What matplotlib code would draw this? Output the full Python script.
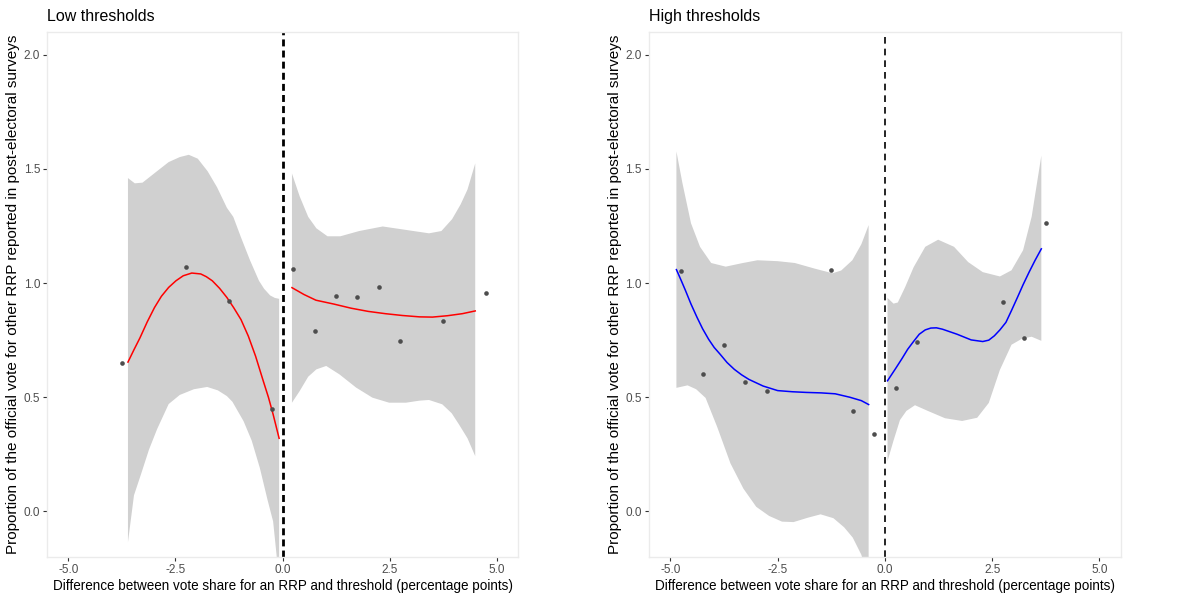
import matplotlib
matplotlib.use('Agg')
import matplotlib.pyplot as plt

plt.rcParams['font.family'] = ['Liberation Sans', 'DejaVu Sans']

# ---- Low thresholds panel ----
low_pts_x = [-3.75, -2.25, -1.25, -0.25, 0.25, 0.75, 1.25, 1.75, 2.25, 2.75, 3.75, 4.75]
low_pts_y = [0.65, 1.07, 0.92, 0.45, 1.063, 0.79, 0.945, 0.94, 0.985, 0.745, 0.834, 0.956]

low_left_x = [-3.61, -3.47, -3.33, -3.16, -2.99, -2.83, -2.66, -2.49, -2.32, -2.12, -1.91, -1.78, -1.64,
              -1.47, -1.30, -1.14, -0.97, -0.80, -0.63, -0.45, -0.33, -0.22, -0.08]
low_left_fit = [0.654, 0.708, 0.76, 0.83, 0.893, 0.942, 0.981, 1.01, 1.032, 1.044, 1.04, 1.028, 1.01,
                0.977, 0.937, 0.892, 0.84, 0.768, 0.68, 0.571, 0.50, 0.425, 0.32]

low_left_up_x = [-3.61, -3.45, -3.27, -3.0, -2.66, -2.40, -2.19, -1.98, -1.75, -1.53, -1.30, -1.15,
                 -0.97, -0.76, -0.55, -0.43, -0.29, -0.18, -0.08]
low_left_up = [1.46, 1.437, 1.44, 1.48, 1.53, 1.552, 1.562, 1.545, 1.49, 1.42, 1.33, 1.29,
               1.20, 1.10, 1.01, 0.975, 0.946, 0.935, 0.931]

low_left_lo_x = [-3.61, -3.47, -3.31, -3.12, -2.93, -2.66, -2.40, -2.07, -1.76, -1.51, -1.30, -1.17,
                 -0.91, -0.72, -0.53, -0.35, -0.22, -0.08]
low_left_lo = [-0.135, 0.07, 0.16, 0.27, 0.36, 0.47, 0.51, 0.535, 0.545, 0.53, 0.505, 0.48,
               0.395, 0.31, 0.19, 0.05, -0.044, -0.30]

low_right_x = [0.22, 0.5, 0.78, 1.2, 1.6, 2.0, 2.4, 2.8, 3.2, 3.5, 3.85, 4.2, 4.5]
low_right_fit = [0.98, 0.95, 0.925, 0.908, 0.89, 0.876, 0.866, 0.858, 0.852, 0.851, 0.857, 0.866, 0.878]

low_right_up_x = [0.22, 0.40, 0.60, 0.79, 1.05, 1.35, 1.79, 2.34, 2.88, 3.42, 3.71, 3.96, 4.16, 4.32, 4.5]
low_right_up = [1.48, 1.38, 1.29, 1.24, 1.205, 1.205, 1.228, 1.248, 1.233, 1.218, 1.228, 1.28, 1.345, 1.41, 1.524]

low_right_lo_x = [0.22, 0.40, 0.60, 0.79, 1.02, 1.33, 1.72, 2.10, 2.49, 2.88, 3.2, 3.42, 3.73, 3.95, 4.12, 4.32, 4.5]
low_right_lo = [0.476, 0.527, 0.59, 0.622, 0.637, 0.60, 0.542, 0.498, 0.476, 0.476, 0.485, 0.488, 0.469,
                0.43, 0.381, 0.32, 0.242]

# ---- High thresholds panel ----
high_pts_x = [-4.75, -4.25, -3.75, -3.25, -2.75, -1.25, -0.75, -0.25, 0.25, 0.75, 2.75, 3.25, 3.75]
high_pts_y = [1.053, 0.603, 0.729, 0.568, 0.527, 1.059, 0.439, 0.338, 0.540, 0.742, 0.918, 0.761, 1.264]

high_left_x = [-4.86, -4.75, -4.65, -4.52, -4.38, -4.25, -4.11, -3.98, -3.84, -3.68, -3.51, -3.34, -3.17,
               -2.84, -2.5, -2.16, -1.83, -1.49, -1.16, -0.82, -0.55, -0.38]
high_left_fit = [1.059, 1.012, 0.968, 0.908, 0.85, 0.80, 0.754, 0.718, 0.688, 0.652, 0.622, 0.598, 0.578,
                 0.549, 0.529, 0.524, 0.521, 0.519, 0.515, 0.5, 0.485, 0.468]

high_left_up_x = [-4.86, -4.72, -4.52, -4.31, -4.05, -3.71, -3.31, -2.97, -2.5, -2.1, -1.63, -1.22, -1.02,
                  -0.76, -0.55, -0.38]
high_left_up = [1.577, 1.438, 1.262, 1.159, 1.088, 1.072, 1.088, 1.10, 1.096, 1.088, 1.063, 1.043, 1.055,
                1.10, 1.17, 1.254]

high_left_lo_x = [-4.86, -4.6, -4.4, -4.18, -3.91, -3.6, -3.3, -3.0, -2.7, -2.4, -2.13, -1.8, -1.5, -1.2,
                  -0.95, -0.75, -0.55, -0.38]
high_left_lo = [0.541, 0.552, 0.535, 0.497, 0.37, 0.21, 0.1, 0.02, -0.02, -0.045, -0.047, -0.028, -0.013,
                -0.03, -0.07, -0.115, -0.19, -0.30]

high_right_x = [0.06, 0.26, 0.40, 0.53, 0.67, 0.80, 0.94, 1.07, 1.20, 1.34, 1.68, 2.01, 2.28, 2.42, 2.55,
                2.68, 2.82, 2.95, 3.09, 3.22, 3.36, 3.50, 3.645]
high_right_fit = [0.572, 0.629, 0.67, 0.71, 0.745, 0.776, 0.795, 0.803, 0.804, 0.798, 0.776, 0.751, 0.744,
                  0.75, 0.769, 0.795, 0.828, 0.88, 0.938, 0.993, 1.048, 1.10, 1.15]

high_right_up_x = [0.06, 0.2, 0.3, 0.47, 0.67, 0.94, 1.24, 1.61, 1.94, 2.28, 2.68, 2.95, 3.22, 3.42, 3.645]
high_right_up = [0.935, 0.91, 0.915, 0.982, 1.07, 1.159, 1.19, 1.159, 1.092, 1.048, 1.029, 1.056, 1.144,
                 1.291, 1.558]

high_right_lo_x = [0.06, 0.2, 0.35, 0.5, 0.7, 1.0, 1.4, 1.8, 2.15, 2.42, 2.68, 2.95, 3.2, 3.42, 3.645]
high_right_lo = [0.22, 0.31, 0.40, 0.44, 0.465, 0.44, 0.408, 0.396, 0.41, 0.475, 0.62, 0.73, 0.757, 0.765, 0.747]

x_ticks = [-5.0, -2.5, 0.0, 2.5, 5.0]
y_ticks = [0.0, 0.5, 1.0, 1.5, 2.0]
x_title = 'Difference between vote share for an RRP and threshold (percentage points)'
y_title = 'Proportion of the official vote for other RRP reported in post-electoral surveys'

RIBBON = '#D0D0D0'
POINT = '#4D4D4D'


def draw_band(ax, up_x, up, lo_x, lo):
    # ribbon polygon: upper edge left->right, lower edge right->left
    xs = list(up_x) + list(lo_x)[::-1]
    ys = list(up) + list(lo)[::-1]
    ax.fill(xs, ys, color=RIBBON, lw=0, zorder=1)


def style_axes(ax, title):
    ax.set_xlim(-5.5, 5.5)
    ax.set_ylim(-0.2, 2.1)
    ax.set_xticks(x_ticks)
    ax.set_xticklabels([f'{t:.1f}' for t in x_ticks])
    ax.set_yticks(y_ticks)
    ax.set_yticklabels([f'{t:.1f}' for t in y_ticks])
    ax.tick_params(length=3, width=0.8, color='#333333', labelcolor='#4D4D4D', labelsize=8.5, pad=2)
    for sp in ax.spines.values():
        sp.set_color('#EBEBEB')
        sp.set_linewidth(1.0)
    ax.set_title(title, loc='left', fontsize=11.5, pad=8)
    ax.set_xlabel(x_title, fontsize=9.75)
    ax.set_ylabel(y_title, fontsize=11)
    ax.xaxis.set_label_coords(0.5, -0.042)
    ax.yaxis.set_label_coords(-0.057, 0.5)


fig = plt.figure(figsize=(12, 5.99), dpi=100)
ax1 = fig.add_axes([0.0392, 0.0701, 0.3925, 0.8765])
ax2 = fig.add_axes([0.5408, 0.0701, 0.3933, 0.8765])

# Low thresholds
draw_band(ax1, low_left_up_x, low_left_up, low_left_lo_x, low_left_lo)
draw_band(ax1, low_right_up_x, low_right_up, low_right_lo_x, low_right_lo)
ax1.axvline(0, color='black', lw=2, linestyle=(0, (2.5, 1.5)), zorder=2)
ax1.plot(low_left_x, low_left_fit, color='#FF0000', lw=1.1, zorder=3)
ax1.plot(low_right_x, low_right_fit, color='#FF0000', lw=1.1, zorder=3)
ax1.scatter(low_pts_x, low_pts_y, s=11, color=POINT, lw=0, zorder=4)
style_axes(ax1, 'Low thresholds')

# High thresholds
draw_band(ax2, high_left_up_x, high_left_up, high_left_lo_x, high_left_lo)
draw_band(ax2, high_right_up_x, high_right_up, high_right_lo_x, high_right_lo)
ax2.axvline(0, color='black', lw=1.2, linestyle=(0, (4, 3)), zorder=2)
ax2.plot(high_left_x, high_left_fit, color='#0000FF', lw=1.1, zorder=3)
ax2.plot(high_right_x, high_right_fit, color='#0000FF', lw=1.1, zorder=3)
ax2.scatter(high_pts_x, high_pts_y, s=11, color=POINT, lw=0, zorder=4)
style_axes(ax2, 'High thresholds')

fig.savefig('out.png', dpi=100)
